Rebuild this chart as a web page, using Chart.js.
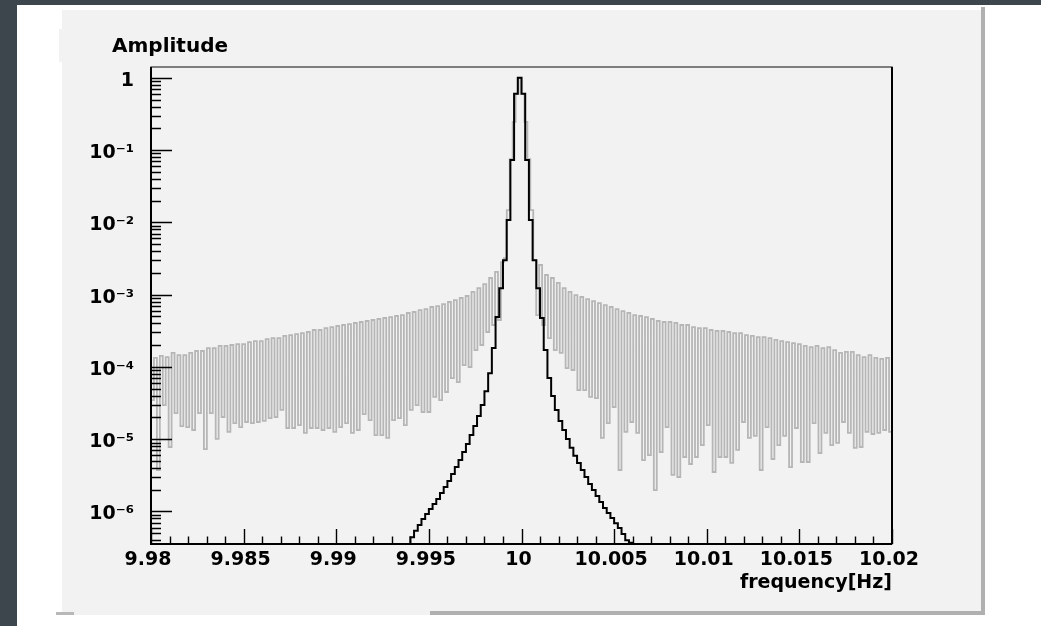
<!DOCTYPE html>
<html>
<head>
  <meta charset="UTF-8" />
  <title>Amplitude vs frequency</title>
  <script src="https://cdn.jsdelivr.net/npm/chart.js"></script>
  <style>
    body {
      margin: 0;
      width: 1041px;
      height: 626px;
      background: #fff;
      position: relative;
      overflow: hidden;
    }
    .blk { position: absolute; }
    #stripTop  { left: 0; top: 0; width: 1041px; height: 5px; background: #3e464d; }
    #stripLeft { left: 0; top: 0; width: 17px; height: 626px; background: #3e464d; }
    #pad       { left: 62px; top: 10px; width: 919px; height: 605px; background: #f2f2f2; }
    #shadowR   { left: 981px; top: 7px; width: 4px; height: 608px; background: #b0b0b0; }
    #shadowB   { left: 430px; top: 611px; width: 555px; height: 4px; background: #b0b0b0; }
    #titleTab  { left: 59px; top: 29px; width: 4px; height: 33px; background: #f2f2f2; }
    #mark      { left: 56px; top: 612px; width: 18px; height: 3px; background: #b8b8b8; }
    #chart     { position: absolute; left: 0; top: 0; }
  </style>
</head>
<body>
  <div class="blk" id="stripTop"></div>
  <div class="blk" id="stripLeft"></div>
  <div class="blk" id="pad"></div>
  <div class="blk" id="shadowR"></div>
  <div class="blk" id="shadowB"></div>
  <div class="blk" id="titleTab"></div>
  <div class="blk" id="mark"></div>
  <canvas id="chart" width="1041" height="626"></canvas>

  <script>
    // axis range and binning
    const xMin = 9.98;
    const xMax = 10.02;
    const yMin = 3.55e-7;
    const yMax = 1.41;
    const grayBins = 252;
    const blackBins = 200;

    const xTitle = 'frequency[Hz]';
    const yTitle = 'Amplitude';

    const xMajorTicks = [9.98, 9.985, 9.99, 9.995, 10, 10.005, 10.01, 10.015, 10.02];
    const xTickLabels = ['9.98', '9.985', '9.99', '9.995', '10', '10.005', '10.01', '10.015', '10.02'];
    const yMajorTicks = [1e-6, 1e-5, 1e-4, 1e-3, 1e-2, 1e-1, 1];
    const yTickLabels = ['10⁻⁶', '10⁻⁵', '10⁻⁴', '10⁻³', '10⁻²', '10⁻¹', '1'];

    // gray spectrum, left of the peak: even bins 0..118 (dips) and odd bins 1..119 (crests)
    const grayLeftLow = [
      3.48e-5, 3.75e-6, 2.97e-5, 7.8e-6, 2.30e-5, 1.52e-5, 1.47e-5, 1.34e-5, 2.30e-5, 7.3e-6,
      2.30e-5, 1.01e-5, 2.03e-5, 1.26e-5, 1.67e-5, 1.47e-5, 1.73e-5, 1.67e-5, 1.73e-5, 1.79e-5,
      1.96e-5, 2.03e-5, 2.54e-5, 1.43e-5, 1.43e-5, 1.57e-5, 1.22e-5, 1.43e-5, 1.43e-5, 1.34e-5,
      1.43e-5, 1.26e-5, 1.47e-5, 1.67e-5, 1.22e-5, 1.34e-5, 2.23e-5, 1.84e-5, 1.14e-5, 1.14e-5,
      1.04e-5, 1.84e-5, 1.96e-5, 1.57e-5, 2.54e-5, 2.97e-5, 2.38e-5, 2.38e-5, 3.84e-5, 3.48e-5,
      4.50e-5, 7.02e-5, 6.18e-5, 1.06e-4, 9.97e-5, 1.71e-4, 2.01e-4, 3.04e-4, 3.80e-4, 4.46e-4
    ];
    const grayLeftHigh = [
      1.33e-4, 1.42e-4, 1.37e-4, 1.56e-4, 1.46e-4, 1.46e-4, 1.56e-4, 1.66e-4, 1.66e-4, 1.82e-4,
      1.82e-4, 1.95e-4, 1.95e-4, 2.01e-4, 2.07e-4, 2.07e-4, 2.21e-4, 2.28e-4, 2.28e-4, 2.43e-4,
      2.51e-4, 2.51e-4, 2.68e-4, 2.76e-4, 2.85e-4, 2.94e-4, 3.04e-4, 3.24e-4, 3.24e-4, 3.45e-4,
      3.56e-4, 3.68e-4, 3.80e-4, 3.92e-4, 4.05e-4, 4.18e-4, 4.32e-4, 4.46e-4, 4.60e-4, 4.75e-4,
      4.90e-4, 5.06e-4, 5.22e-4, 5.57e-4, 5.75e-4, 6.12e-4, 6.32e-4, 6.74e-4, 6.95e-4, 7.41e-4,
      7.91e-4, 8.42e-4, 8.98e-4, 9.57e-4, 1.09e-3, 1.23e-3, 1.40e-3, 1.70e-3, 2.06e-3, 2.82e-3
    ];
    // bins 120..130 around 10 Hz
    const grayCore = [3.21e-3, 1.48e-2, 7.5e-2, 0.246, 0.6, 1.0, 0.6, 0.246, 7.5e-2, 1.48e-2, 3.01e-3];
    // right of the peak: odd bins 131..251 (dips) and even bins 132..250 (crests)
    const grayRightLow = [
      5.22e-4, 3.80e-4, 2.51e-4, 1.71e-4, 1.56e-4, 9.65e-5, 9.06e-5, 4.79e-5, 4.79e-5, 3.84e-5,
      3.71e-5, 1.04e-5, 1.67e-5, 2.79e-5, 3.75e-6, 1.26e-5, 1.73e-5, 1.22e-5, 5.15e-6, 6.04e-6,
      1.98e-6, 6.65e-6, 1.47e-5, 3.20e-6, 3.00e-6, 5.67e-6, 4.54e-6, 5.67e-6, 8.3e-6, 1.57e-5,
      3.52e-6, 5.67e-6, 5.67e-6, 4.69e-6, 7.1e-6, 1.73e-5, 1.04e-5, 1.11e-5, 3.75e-6, 1.47e-5,
      5.32e-6, 8.3e-6, 1.11e-5, 4.12e-6, 1.43e-5, 4.84e-6, 4.84e-6, 1.67e-5, 6.44e-6, 1.22e-5,
      8.3e-6, 8.9e-6, 1.73e-5, 1.22e-5, 7.6e-6, 7.8e-6, 1.26e-5, 1.18e-5, 1.22e-5, 1.34e-5,
      1.26e-5
    ];
    const grayRightHigh = [
      2.57e-3, 1.87e-3, 1.70e-3, 1.45e-3, 1.23e-3, 1.09e-3, 9.87e-4, 9.27e-4, 8.69e-4, 8.15e-4,
      7.65e-4, 7.18e-4, 6.74e-4, 6.32e-4, 5.93e-4, 5.57e-4, 5.22e-4, 5.06e-4, 4.90e-4, 4.60e-4,
      4.32e-4, 4.18e-4, 4.18e-4, 4.05e-4, 3.80e-4, 3.80e-4, 3.56e-4, 3.45e-4, 3.45e-4, 3.24e-4,
      3.14e-4, 3.14e-4, 3.04e-4, 2.94e-4, 2.94e-4, 2.76e-4, 2.68e-4, 2.59e-4, 2.59e-4, 2.51e-4,
      2.36e-4, 2.28e-4, 2.21e-4, 2.14e-4, 2.07e-4, 1.95e-4, 1.88e-4, 1.95e-4, 1.82e-4, 1.88e-4,
      1.71e-4, 1.56e-4, 1.61e-4, 1.61e-4, 1.46e-4, 1.37e-4, 1.46e-4, 1.33e-4, 1.29e-4, 1.33e-4
    ];

    // black spectrum, bins 70..129 (the rest is under the axis)
    const blackFirstBin = 70;
    const blackAmp = [
      4.4e-7, 5.4e-7, 6.5e-7, 7.9e-7, 9.2e-7, 1.08e-6, 1.27e-6, 1.49e-6, 1.80e-6, 2.18e-6,
      2.64e-6, 3.30e-6, 4.13e-6, 5.15e-6, 6.65e-6, 8.6e-6, 1.14e-5, 1.52e-5, 2.09e-5, 2.97e-5,
      4.6e-5, 8.2e-5, 1.82e-4, 4.9e-4, 1.23e-3, 3.0e-3, 1.08e-2, 7.3e-2, 0.6, 1.0,
      0.6, 7.3e-2, 1.08e-2, 3.0e-3, 1.23e-3, 4.75e-4, 1.71e-4, 7.0e-5, 3.96e-5, 2.54e-5,
      1.79e-5, 1.34e-5, 1.01e-5, 7.6e-6, 5.9e-6, 4.7e-6, 3.75e-6, 3.0e-6, 2.40e-6, 1.98e-6,
      1.64e-6, 1.35e-6, 1.12e-6, 9.5e-7, 8.1e-7, 6.9e-7, 5.9e-7, 4.9e-7, 4.0e-7, 3.7e-7
    ];
    const belowAxis = 1e-7;

    // put the gray bins back in order
    const grayAmp = [];
    grayLeftLow.forEach((v, k) => grayAmp.push(v, grayLeftHigh[k]));
    grayAmp.push(...grayCore);
    grayRightLow.forEach((v, k) => {
      grayAmp.push(v);
      if (k < grayRightHigh.length) grayAmp.push(grayRightHigh[k]);
    });

    // histogram outline: one point per lower bin edge, plus the closing edge
    function histPoints(amps, firstBin, nBins, floor) {
      const w = (xMax - xMin) / nBins;
      const pts = [];
      if (floor) pts.push({ x: xMin + firstBin * w, y: floor });
      amps.forEach((v, i) => pts.push({ x: xMin + (firstBin + i) * w, y: v }));
      const end = xMin + (firstBin + amps.length) * w;
      pts.push({ x: end, y: amps[amps.length - 1] });
      if (floor) pts.push({ x: end, y: floor });
      return pts;
    }

    // ROOT style frame, ticks inside, titles
    const rootFrame = {
      id: 'rootFrame',
      afterDatasetsDraw(chart) {
        const { ctx, chartArea: a, scales: { x, y } } = chart;
        ctx.save();
        ctx.strokeStyle = '#000';
        ctx.lineWidth = 1.4;
        ctx.beginPath();
        yMajorTicks.forEach(v => {
          const py = Math.round(y.getPixelForValue(v)) + 0.5;
          ctx.moveTo(a.left, py); ctx.lineTo(a.left + 21, py);
        });
        for (let e = -7; e <= 0; e++) {
          for (let m = 2; m <= 9; m++) {
            const v = m * Math.pow(10, e);
            if (v < yMin || v > yMax) continue;
            const py = Math.round(y.getPixelForValue(v)) + 0.5;
            ctx.moveTo(a.left, py); ctx.lineTo(a.left + 10, py);
          }
        }
        for (let i = 0; i <= 40; i++) {
          const px = Math.round(x.getPixelForValue(xMin + i * 0.001)) + 0.5;
          const len = i % 5 === 0 ? 15 : 7.5;
          ctx.moveTo(px, a.bottom); ctx.lineTo(px, a.bottom - len);
        }
        ctx.stroke();

        // frame: thin top/right, heavy left/bottom
        ctx.lineWidth = 1.2;
        ctx.strokeStyle = '#333';
        ctx.strokeRect(a.left, a.top, a.right - a.left, a.bottom - a.top);
        ctx.lineWidth = 2;
        ctx.strokeStyle = '#000';
        ctx.beginPath();
        ctx.moveTo(a.left, a.top); ctx.lineTo(a.left, a.bottom); ctx.lineTo(a.right, a.bottom);
        ctx.moveTo(a.right, a.top); ctx.lineTo(a.right, a.bottom);
        ctx.stroke();

        ctx.fillStyle = '#000';
        ctx.textBaseline = 'alphabetic';
        ctx.font = 'bold 20px "DejaVu Sans"';
        ctx.textAlign = 'left';
        ctx.fillText(yTitle, 112, 52);
        ctx.font = 'bold 19px "DejaVu Sans"';
        ctx.textAlign = 'right';
        ctx.fillText(xTitle, a.right, 588);
        ctx.restore();
      }
    };

    const tickFont = { family: 'DejaVu Sans', weight: 'bold', size: 19 };

    new Chart(document.getElementById('chart'), {
      type: 'line',
      data: {
        datasets: [{
          label: 'black',
          data: histPoints(blackAmp, blackFirstBin, blackBins, belowAxis),
          borderColor: '#000',
          borderWidth: 2,
          stepped: 'before',
          pointRadius: 0,
          fill: false,
        }, {
          label: 'gray',
          data: histPoints(grayAmp, 0, grayBins, null),
          borderColor: '#b6b6b6',
          borderWidth: 1.8,
          stepped: 'before',
          pointRadius: 0,
          fill: false,
        }]
      },
      options: {
        responsive: false,
        animation: false,
        devicePixelRatio: 1,
        layout: { padding: { left: 0, top: 67, right: 149, bottom: 42 } },
        plugins: {
          legend: { display: false },
          tooltip: { enabled: false },
        },
        scales: {
          x: {
            type: 'linear',
            min: xMin,
            max: xMax,
            bounds: 'data',
            grid: { display: false },
            border: { display: false },
            afterBuildTicks: s => { s.ticks = xMajorTicks.map(v => ({ value: v })); },
            afterFit: s => { s.height = 40; },
            ticks: {
              autoSkip: false,
              maxRotation: 0,
              padding: -3,
              labelOffset: -3,
              color: '#000',
              font: tickFont,
              callback: (v, i) => xTickLabels[i],
            },
          },
          y: {
            type: 'logarithmic',
            min: yMin,
            max: yMax,
            bounds: 'data',
            grid: { display: false },
            border: { display: false },
            afterBuildTicks: s => { s.ticks = yMajorTicks.map(v => ({ value: v })); },
            afterFit: s => { s.width = 151; },
            ticks: {
              autoSkip: false,
              padding: 9,
              labelOffset: 3,
              color: '#000',
              font: tickFont,
              callback: (v, i) => yTickLabels[i],
            },
          },
        },
      },
      plugins: [rootFrame],
    });
  </script>
</body>
</html>
